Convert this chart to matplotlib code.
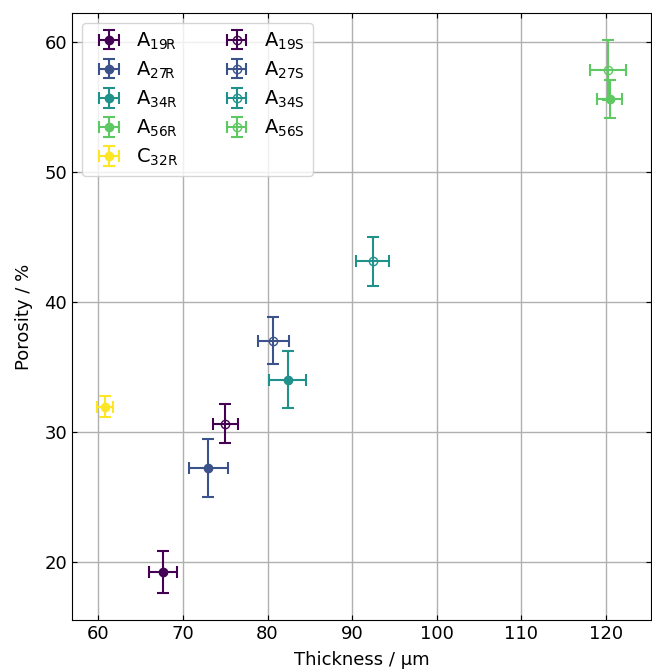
import numpy as np
import matplotlib
matplotlib.use('Agg')
from matplotlib import pyplot as plt

# samples: label, thickness, thickness err, porosity, porosity err, filled?
labels = ['A$_{\\mathregular{19R}}$', 'A$_{\\mathregular{27R}}$', 'A$_{\\mathregular{34R}}$',
          'A$_{\\mathregular{56R}}$', 'C$_{\\mathregular{32R}}$',
          'A$_{\\mathregular{19S}}$', 'A$_{\\mathregular{27S}}$', 'A$_{\\mathregular{34S}}$',
          'A$_{\\mathregular{56S}}$']
thickness = [67.7, 73.0, 82.4, 120.4, 60.8, 75.0, 80.7, 92.4, 120.2]
thickness_err = [1.65, 2.3, 2.2, 1.5, 0.95, 1.5, 1.8, 1.9, 2.1]
porosity = [19.2, 27.2, 34.0, 55.6, 31.9, 30.6, 37.0, 43.1, 57.8]
porosity_err = [1.6, 2.2, 2.2, 1.45, 0.8, 1.5, 1.8, 1.9, 2.3]
filled = [True, True, True, True, True, False, False, False, False]
color_idx = [0, 1, 2, 3, 4, 0, 1, 2, 3]

cols = plt.cm.viridis(np.linspace(0, 1, 5))

fig = plt.figure(figsize=(6.52, 6.69), dpi=100)
ax = fig.add_axes([72/652, 49/669, 579/652, 607/669])

for i in range(len(labels)):
    c = cols[color_idx[i]]
    if filled[i]:
        ax.errorbar(thickness[i], porosity[i], xerr=thickness_err[i], yerr=porosity_err[i],
                    fmt='o', color=c, ms=6, capsize=4, elinewidth=1.5, capthick=1.5,
                    label=labels[i], zorder=3)
    else:
        ax.errorbar(thickness[i], porosity[i], xerr=thickness_err[i], yerr=porosity_err[i],
                    fmt='o', color=c, mfc='none', ms=6, capsize=4, elinewidth=1.5, capthick=1.5,
                    label=labels[i], zorder=3)

ax.set_xlim(56.9, 125.3)
ax.set_ylim(15.5, 62.2)
ax.set_xticks([60, 70, 80, 90, 100, 110, 120])
ax.set_yticks([20, 30, 40, 50, 60])
ax.grid(True, color='#b0b0b0', lw=1)
ax.set_axisbelow(True)
ax.tick_params(direction='in', top=True, right=True, labelsize=13)
ax.set_xlabel('Thickness / µm', fontsize=13, labelpad=6)
ax.set_ylabel('Porosity / %', fontsize=13, labelpad=8)
ax.legend(loc='upper left', ncol=2, fontsize=14, handletextpad=0.4, columnspacing=2.0,
          labelspacing=0.4)

plt.savefig('out.png')
